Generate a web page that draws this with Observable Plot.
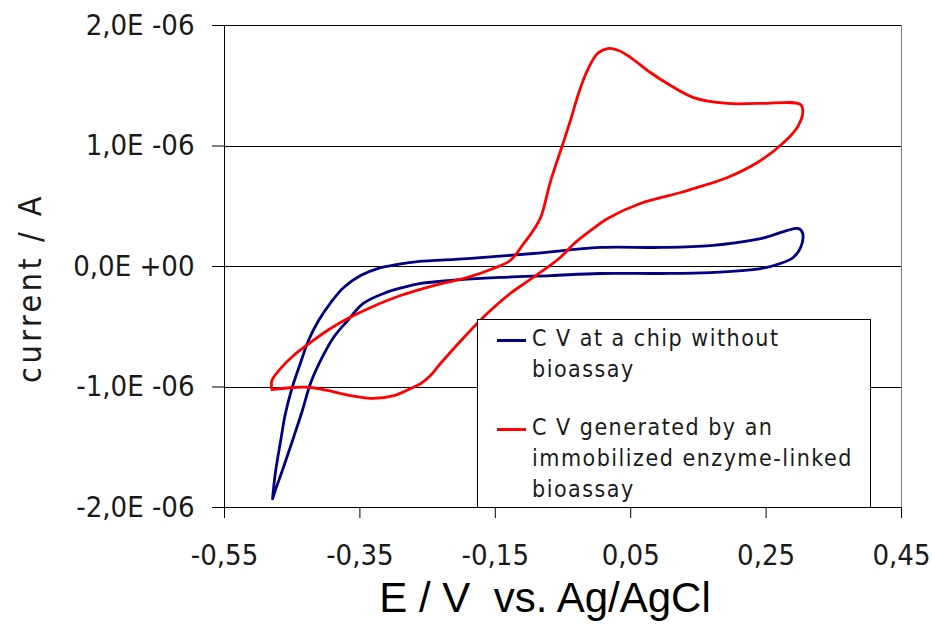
<!DOCTYPE html>
<html>
<head>
<meta charset="utf-8">
<script src="https://cdn.jsdelivr.net/npm/d3@7"></script>
<script src="https://cdn.jsdelivr.net/npm/@observablehq/plot@0.6"></script>
<style>
  html, body { margin: 0; padding: 0; background: #fff; }
  #wrap { position: relative; width: 932px; height: 624px; overflow: hidden; }
  .cond { font-family: "DejaVu Sans Condensed", "DejaVu Sans", sans-serif; font-stretch: condensed; }
  #ytitle { position: absolute; left: 30px; top: 288px; transform: translate(-50%, -50%) rotate(-90deg);
    font-size: 32px; letter-spacing: 3.5px; color: #1a1a1a; white-space: nowrap; }
  #xtitle { position: absolute; left: 545px; top: 598px; transform: translate(-50%, -50%);
    font-family: "Liberation Sans", Arial, sans-serif; font-size: 42px; color: #000; white-space: pre; }
  #legend { position: absolute; left: 477px; top: 319px; width: 392px; height: 187px;
    border: 1px solid #000; background: #fff; box-sizing: content-box; }
  .lline { position: absolute; left: 19px; width: 29px; height: 3px; }
  .ltext { position: absolute; left: 54px; font-size: 23px; letter-spacing: 1.5px; line-height: 31px; color: #1a1a1a; white-space: nowrap; }
  svg line, svg rect { shape-rendering: crispEdges; }
</style>
</head>
<body>
<div id="wrap"></div>
<script>
// ---- data (E in V vs Ag/AgCl, current in units of 1E-06 A) ----
const blueE = [-0.479,-0.475,-0.467,-0.460,-0.450,-0.438,-0.426,-0.411,-0.393,-0.374,-0.349,-0.324,-0.294,-0.265,-0.191,-0.094,0.005,0.094,0.168,0.242,0.298,0.304,0.301,0.290,0.271,0.242,0.168,0.094,0.005,-0.068,-0.142,-0.216,-0.260,-0.286,-0.315,-0.345,-0.368,-0.389,-0.408,-0.423,-0.435,-0.448,-0.463,-0.475,-0.479];
const blueI = [-1.928,-1.718,-1.444,-1.220,-1.004,-0.805,-0.614,-0.448,-0.299,-0.174,-0.075,-0.017,0.017,0.041,0.066,0.108,0.158,0.158,0.174,0.232,0.315,0.274,0.158,0.075,0.025,-0.017,-0.050,-0.058,-0.058,-0.075,-0.091,-0.116,-0.141,-0.174,-0.224,-0.307,-0.448,-0.589,-0.780,-0.971,-1.195,-1.419,-1.668,-1.859,-1.928];
const redE = [-0.480,-0.448,-0.423,-0.398,-0.364,-0.330,-0.300,-0.275,-0.260,-0.245,-0.231,-0.191,-0.162,-0.128,-0.094,-0.054,-0.035,-0.009,0.016,0.064,0.124,0.143,0.193,0.242,0.276,0.296,0.304,0.301,0.242,0.193,0.143,0.104,0.079,0.050,0.032,0.016,0.001,-0.014,-0.027,-0.039,-0.051,-0.068,-0.083,-0.094,-0.108,-0.128,-0.153,-0.191,-0.241,-0.290,-0.334,-0.368,-0.398,-0.423,-0.448,-0.467,-0.480,-0.480];
const redI = [-1.021,-1.004,-1.004,-1.029,-1.071,-1.095,-1.071,-1.012,-0.971,-0.900,-0.805,-0.556,-0.390,-0.224,-0.091,0.075,0.183,0.299,0.398,0.523,0.614,0.647,0.739,0.880,1.029,1.154,1.270,1.344,1.353,1.353,1.402,1.519,1.610,1.734,1.793,1.809,1.768,1.627,1.436,1.212,1.004,0.714,0.407,0.299,0.191,0.050,-0.017,-0.091,-0.158,-0.241,-0.340,-0.432,-0.531,-0.631,-0.739,-0.846,-0.946,-1.021];

const xTicks = [-0.55, -0.35, -0.15, 0.05, 0.25, 0.45];
const xTickLabels = ["-0,55", "-0,35", "-0,15", "0,05", "0,25", "0,45"];
const yTicks = [-2, -1, 0, 1, 2];
const yTickLabels = ["-2,0E -06", "-1,0E -06", "0,0E +00", "1,0E -06", "2,0E -06"];

const seriesNames = ["C V at a chip without\nbioassay", "C V generated by an\nimmobilized enzyme-linked\nbioassay"];
const seriesColors = ["#000080", "#ff0000"];

const blue = blueE.map((e, i) => ({E: e, I: blueI[i]}));
const red = redE.map((e, i) => ({E: e, I: redI[i]}));

const fontCSS = '"DejaVu Sans Condensed", "DejaVu Sans", sans-serif';

const chart = Plot.plot({
  width: 932,
  height: 624,
  marginLeft: 224,
  marginRight: 31,
  marginTop: 25,
  marginBottom: 117,
  style: {fontFamily: fontCSS, fontSize: "29px", color: "#1a1a1a", background: "#fff", fontStretch: "condensed"},
  x: {domain: [-0.55, 0.45]},
  y: {domain: [-2, 2]},
  marks: [
    Plot.frame({stroke: "#808080", strokeWidth: 1}),
    Plot.gridY(yTicks, {stroke: "#000", strokeOpacity: 1, strokeWidth: 1}),
    Plot.axisY(yTicks, {tickSize: 12, tickPadding: 18, tickFormat: d => yTickLabels[yTicks.indexOf(d)], label: null, stroke: "#000", fill: "#1a1a1a"}),
    Plot.axisX(xTicks, {tickSize: 11, tickPadding: 26, tickFormat: d => xTickLabels[xTicks.indexOf(d)], label: null, stroke: "#000", fill: "#1a1a1a"}),
    Plot.ruleX([-0.55], {stroke: "#000", strokeWidth: 1}),
    Plot.ruleY([-2], {stroke: "#000", strokeWidth: 1}),
    Plot.line(blue, {x: "E", y: "I", stroke: seriesColors[0], strokeWidth: 2.8, curve: "catmull-rom"}),
    Plot.line(red, {x: "E", y: "I", stroke: seriesColors[1], strokeWidth: 2.8, curve: "catmull-rom"})
  ]
});

const wrap = document.getElementById("wrap");
wrap.appendChild(chart);

const yt = document.createElement("div");
yt.id = "ytitle"; yt.className = "cond"; yt.textContent = "current / A";
wrap.appendChild(yt);

const xt = document.createElement("div");
xt.id = "xtitle"; xt.textContent = "E / V  vs. Ag/AgCl";
wrap.appendChild(xt);

const lg = document.createElement("div");
lg.id = "legend"; lg.className = "cond";
const rowTops = [3, 92];
seriesNames.forEach((name, k) => {
  const line = document.createElement("div");
  line.className = "lline";
  line.style.background = seriesColors[k];
  line.style.top = (rowTops[k] + 16) + "px";
  lg.appendChild(line);
  const t = document.createElement("div");
  t.className = "ltext";
  t.style.top = rowTops[k] + "px";
  t.innerHTML = name.split("\n").join("<br>");
  lg.appendChild(t);
});
wrap.appendChild(lg);
</script>
</body>
</html>
